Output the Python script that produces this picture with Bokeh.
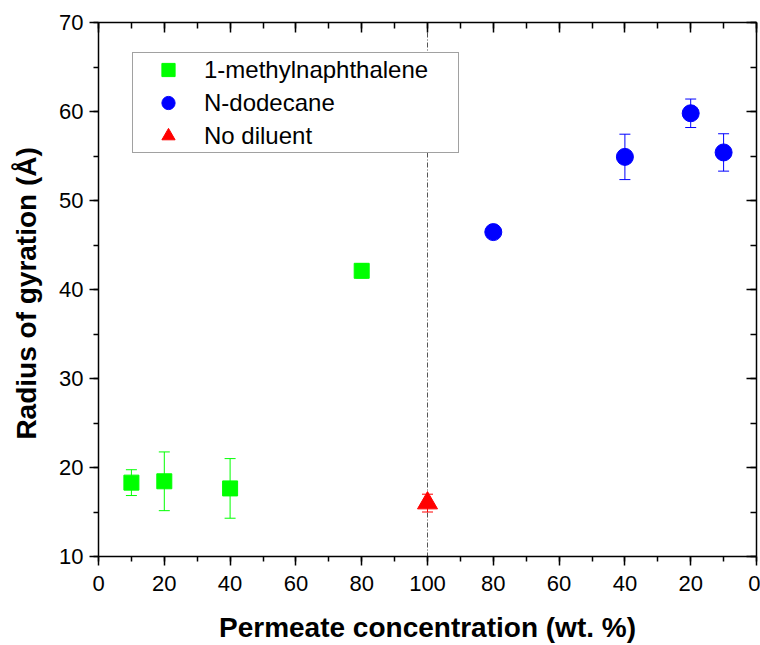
from bokeh.plotting import figure
from bokeh.models import (ColumnDataSource, Whisker, TeeHead, Span, LinearAxis,
                          FixedTicker, Range1d, Legend, LegendItem, CustomLabelingPolicy)
from bokeh.embed import file_html
from bokeh.resources import INLINE

# ---- data ----
# 1-methylnaphthalene (left half, permeate wt.% plotted directly)
mn_conc = [10, 20, 40, 80]
mn_rg = [18.3, 18.45, 17.65, 42.1]
mn_err = [1.45, 3.3, 3.35, 0.8]

# N-dodecane (right half, permeate wt.% decreasing from 100 to 0)
dd_conc = [80, 40, 20, 10]
dd_rg = [46.45, 54.9, 59.8, 55.4]
dd_err = [0.5, 2.55, 1.6, 2.1]

# No diluent
nd_conc = [100]
nd_rg = [16.0]
nd_err = [1.0]

x_tick_pos = [0, 20, 40, 60, 80, 100, 120, 140, 160, 180, 200]
x_tick_labels = ["0", "20", "40", "60", "80", "100", "80", "60", "40", "20", "0"]
y_ticks = [10, 20, 30, 40, 50, 60, 70]

FONT = "Liberation Sans"

def src(xs, ys, es):
    return ColumnDataSource(dict(x=xs, y=ys,
                                 upper=[a + b for a, b in zip(ys, es)],
                                 lower=[a - b for a, b in zip(ys, es)]))

mn_src = src(mn_conc, mn_rg, mn_err)
dd_src = src([200 - c for c in dd_conc], dd_rg, dd_err)
nd_src = src(nd_conc, nd_rg, nd_err)

p = figure(width=760, height=645, x_range=Range1d(0, 200), y_range=Range1d(10, 70),
           output_backend="svg", toolbar_location=None,
           min_border_left=98, min_border_right=3, min_border_top=22, min_border_bottom=88)
p.grid.visible = False
p.outline_line_color = None
p.background_fill_color = "white"
p.border_fill_color = "white"

# vertical divider
p.add_layout(Span(location=100, dimension="height", line_color="#555555",
                  line_width=1, line_dash="5 2 1 2", level="underlay"))

# error bars
for s, col in ((mn_src, "#00FF00"), (dd_src, "#0000FF"), (nd_src, "#FF0000")):
    w = Whisker(source=s, base="x", upper="upper", lower="lower",
                line_color=col, line_width=1, level="underlay",
                upper_head=TeeHead(size=11, line_color=col, line_width=1),
                lower_head=TeeHead(size=11, line_color=col, line_width=1))
    p.add_layout(w)

r_mn = p.scatter("x", "y", source=mn_src, marker="square", size=15,
                 fill_color="#00FF00", line_color="#00FF00")
r_dd = p.scatter("x", "y", source=dd_src, marker="circle", size=17,
                 fill_color="#0000FF", line_color="#0000FF")
r_nd = p.scatter("x", "y", source=nd_src, marker="triangle", size=20,
                 fill_color="#FF0000", line_color="#FF0000")

# axes styling
def style_axis(ax, labels=True):
    ax.axis_line_color = "black"
    ax.axis_line_width = 1.5
    ax.major_tick_line_color = "black"
    ax.minor_tick_line_color = "black"
    ax.major_tick_line_width = 1.5
    ax.minor_tick_line_width = 1.5
    if labels:
        ax.major_tick_out = 9
        ax.major_tick_in = 0
        ax.minor_tick_out = 5
        ax.minor_tick_in = 0
        ax.major_label_text_font = FONT
        ax.major_label_text_font_size = "22px"
        ax.major_label_text_color = "black"
        ax.axis_label_text_font = FONT
        ax.axis_label_text_font_size = "28px"
        ax.axis_label_text_font_style = "bold"
        ax.axis_label_text_color = "black"
    else:
        ax.major_tick_out = 0
        ax.major_tick_in = 10
        ax.minor_tick_out = 0
        ax.minor_tick_in = 6
        ax.major_label_text_font_size = "1px"
        ax.major_label_policy = CustomLabelingPolicy(code="return new Set()")
        ax.major_label_standoff = 0
        ax.axis_label_standoff = 0

xt = FixedTicker(ticks=x_tick_pos, minor_ticks=list(range(0, 201, 10)))
yt = FixedTicker(ticks=y_ticks, minor_ticks=list(range(10, 71, 5)))

xa = p.xaxis[0]
xa.ticker = xt
xa.major_label_overrides = {float(k): v for k, v in zip(x_tick_pos, x_tick_labels)}
xa.axis_label = "Permeate concentration (wt. %)"
style_axis(xa)
xa.major_label_standoff = 10
xa.axis_label_standoff = 18

ya = p.yaxis[0]
ya.ticker = yt
ya.axis_label = "Radius of gyration  (Å)"
style_axis(ya)
ya.major_label_standoff = 6
ya.axis_label_standoff = 14

top = LinearAxis(ticker=FixedTicker(ticks=x_tick_pos, minor_ticks=list(range(0, 201, 10))))
style_axis(top, labels=False)
p.add_layout(top, "above")
right = LinearAxis(ticker=FixedTicker(ticks=y_ticks, minor_ticks=list(range(10, 71, 5))))
style_axis(right, labels=False)
p.add_layout(right, "right")

legend = Legend(items=[LegendItem(label="1-methylnaphthalene", renderers=[r_mn]),
                       LegendItem(label="N-dodecane", renderers=[r_dd]),
                       LegendItem(label="No diluent", renderers=[r_nd])],
                location=(34, 403))
legend.label_text_font = FONT
legend.label_text_font_size = "24px"
legend.label_text_color = "black"
legend.label_height = 33
legend.glyph_height = 33
legend.glyph_width = 70
legend.label_width = 254
legend.label_standoff = 1
legend.spacing = 0
legend.padding = 0
legend.margin = 0
legend.border_line_color = "#444444"
legend.border_line_width = 1
legend.background_fill_color = "white"
legend.background_fill_alpha = 1
p.add_layout(legend)

open("out.html", "w").write(file_html(p, INLINE))
